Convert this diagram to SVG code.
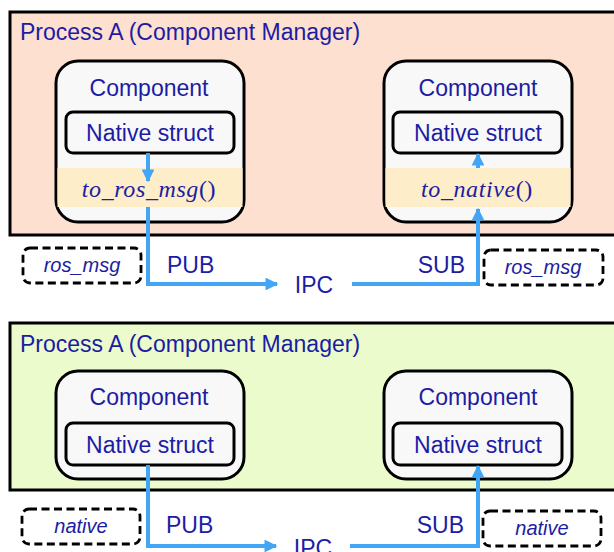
<svg xmlns="http://www.w3.org/2000/svg" width="614" height="552" viewBox="0 0 614 552">
  <defs>
    <marker id="ah" viewBox="0 0 10 10" refX="9" refY="5" markerWidth="3.2" markerHeight="3.2" orient="auto" markerUnits="strokeWidth">
      <path d="M0,0 L10,5 L0,10 z" fill="#42a5f5"/>
    </marker>
    <style>
      .proc { stroke: #000; stroke-width: 3; }
      .comp { fill: #f8f8f8; stroke: #000; stroke-width: 3; }
      .nat { fill: #f8f8f8; stroke: #000; stroke-width: 3; }
      .band { fill: #fdedc8; }
      .dash { fill: #fff; stroke: #000; stroke-width: 2.8; stroke-dasharray: 8 4.5; }
      .t { font-family: "Liberation Sans", Arial, sans-serif; fill: #1c1ca4; }
      .lbl { font-size: 23px; }
      .it { font-size: 20px; font-style: italic; }
      .math { font-family: "Liberation Serif", "Times New Roman", serif; font-size: 24px; fill: #1c1ca4; letter-spacing: 0.6px; }
      .wire { fill: none; stroke: #42a5f5; stroke-width: 4; }
    </style>
  </defs>

  <!-- upper process: ROS message conversion -->
  <g id="processTop">
    <rect class="proc" x="10" y="12" width="610" height="223" fill="#fde0cf"/>
    <text class="t lbl" x="20" y="40">Process A (Component Manager)</text>
  </g>
  <g id="compTopLeft">
    <rect class="comp" x="56" y="61" width="188" height="161" rx="22"/>
    <rect class="band" x="57.5" y="168" width="185" height="39"/>
    <text class="t lbl" x="149" y="96" text-anchor="middle">Component</text>
    <rect class="nat" x="66" y="112" width="168" height="41" rx="7"/>
    <text class="t lbl" x="150" y="141" text-anchor="middle">Native struct</text>
    <text class="math" x="149" y="197" text-anchor="middle"><tspan font-style="italic">to_ros_msg</tspan>()</text>
  </g>
  <g id="compTopRight">
    <rect class="comp" x="384" y="61" width="188" height="161" rx="22"/>
    <rect class="band" x="385.5" y="168" width="185" height="39"/>
    <text class="t lbl" x="478" y="96" text-anchor="middle">Component</text>
    <rect class="nat" x="393" y="112" width="169" height="41" rx="7"/>
    <text class="t lbl" x="478" y="141" text-anchor="middle">Native struct</text>
    <text class="math" x="477" y="197" text-anchor="middle"><tspan font-style="italic">to_native</tspan>()</text>
  </g>
  <g id="msgTopLeft">
    <rect class="dash" x="23" y="248" width="118" height="35" rx="7"/>
    <text class="t it" x="82" y="272" text-anchor="middle">ros_msg</text>
  </g>
  <g id="msgTopRight">
    <rect class="dash" x="484" y="250" width="119" height="35" rx="7"/>
    <text class="t it" x="543" y="274" text-anchor="middle">ros_msg</text>
  </g>

  <!-- lower process: native passing -->
  <g id="processBottom">
    <rect class="proc" x="10" y="323" width="610" height="167" fill="#ebfbcc"/>
    <text class="t lbl" x="20" y="352">Process A (Component Manager)</text>
  </g>
  <g id="compBottomLeft">
    <rect class="comp" x="56" y="371" width="188" height="108" rx="22"/>
    <text class="t lbl" x="149" y="405" text-anchor="middle">Component</text>
    <rect class="nat" x="66" y="423" width="168" height="42" rx="7"/>
    <text class="t lbl" x="150" y="453" text-anchor="middle">Native struct</text>
  </g>
  <g id="compBottomRight">
    <rect class="comp" x="384" y="371" width="188" height="108" rx="22"/>
    <text class="t lbl" x="478" y="405" text-anchor="middle">Component</text>
    <rect class="nat" x="393" y="423" width="169" height="42" rx="7"/>
    <text class="t lbl" x="478" y="453" text-anchor="middle">Native struct</text>
  </g>
  <g id="msgBottomLeft">
    <rect class="dash" x="22" y="509" width="118" height="35" rx="7"/>
    <text class="t it" x="81" y="533" text-anchor="middle">native</text>
  </g>
  <g id="msgBottomRight">
    <rect class="dash" x="483" y="511" width="118" height="35" rx="7"/>
    <text class="t it" x="542" y="535" text-anchor="middle">native</text>
  </g>

  <!-- IPC labels -->
  <g id="labels">
    <text class="t lbl" x="167" y="273">PUB</text>
    <text class="t lbl" x="465" y="273" text-anchor="end">SUB</text>
    <text class="t lbl" x="314" y="293" text-anchor="middle">IPC</text>
    <text class="t lbl" x="166" y="533">PUB</text>
    <text class="t lbl" x="464" y="533" text-anchor="end">SUB</text>
    <text class="t lbl" x="313" y="556" text-anchor="middle">IPC</text>
  </g>

  <!-- connectors -->
  <g id="connectors">
    <line class="wire" x1="148" y1="153" x2="148" y2="181" marker-end="url(#ah)"/>
    <polyline class="wire" points="148,207 148,284 277,284" marker-end="url(#ah)"/>
    <polyline class="wire" points="352,284 478,284 478,209" marker-end="url(#ah)"/>
    <line class="wire" x1="478" y1="168" x2="478" y2="154" marker-end="url(#ah)"/>
    <polyline class="wire" points="148,465 148,546 276,546" marker-end="url(#ah)"/>
    <polyline class="wire" points="350,546 478,546 478,466" marker-end="url(#ah)"/>
  </g>
</svg>
